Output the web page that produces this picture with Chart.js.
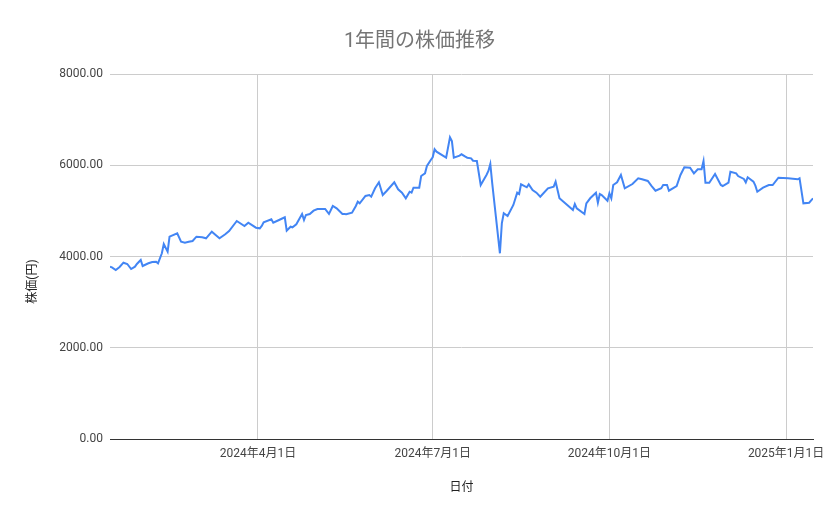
<!DOCTYPE html>
<html>
<head>
<meta charset="utf-8">
<script src="https://cdn.jsdelivr.net/npm/chart.js@4.4.0/dist/chart.umd.min.js"></script>
<style>
  html, body { margin: 0; padding: 0; background: #fff; }
  #wrap { width: 839px; height: 519px; }
</style>
</head>
<body>
<div id="wrap"><canvas id="c" width="839" height="519"></canvas></div>
<script>
const chartTitle = '1年間の株価推移';
const xTitle = '日付';
const yTitle = '株価(円)';

const dates = [
  "2024-01-15","2024-01-16","2024-01-18","2024-01-20","2024-01-22","2024-01-24","2024-01-26","2024-01-28","2024-01-29","2024-01-31",
  "2024-02-01","2024-02-04","2024-02-06","2024-02-08","2024-02-09","2024-02-11","2024-02-12","2024-02-14","2024-02-15","2024-02-19",
  "2024-02-21","2024-02-23","2024-02-25","2024-02-27","2024-02-29","2024-03-03","2024-03-05","2024-03-08","2024-03-10","2024-03-12",
  "2024-03-15","2024-03-17","2024-03-21","2024-03-25","2024-03-27","2024-03-31","2024-04-02","2024-04-03","2024-04-04","2024-04-08",
  "2024-04-09","2024-04-12","2024-04-15","2024-04-16","2024-04-18","2024-04-19","2024-04-21","2024-04-24","2024-04-25","2024-04-26",
  "2024-04-28","2024-04-30","2024-05-02","2024-05-06","2024-05-08","2024-05-10","2024-05-12","2024-05-15","2024-05-16","2024-05-17",
  "2024-05-20","2024-05-22","2024-05-23","2024-05-24","2024-05-27","2024-05-29","2024-05-30","2024-06-01","2024-06-03","2024-06-05",
  "2024-06-07","2024-06-11","2024-06-13","2024-06-15","2024-06-17","2024-06-19","2024-06-20","2024-06-21","2024-06-24","2024-06-25",
  "2024-06-27","2024-06-28","2024-06-30","2024-07-01","2024-07-02","2024-07-03","2024-07-08","2024-07-10","2024-07-11","2024-07-12",
  "2024-07-15","2024-07-16","2024-07-18","2024-07-19","2024-07-21","2024-07-22","2024-07-24","2024-07-26","2024-07-29","2024-07-30",
  "2024-07-31","2024-08-01","2024-08-03","2024-08-05","2024-08-06","2024-08-07","2024-08-09","2024-08-12","2024-08-14","2024-08-15",
  "2024-08-16","2024-08-19","2024-08-20","2024-08-22","2024-08-24","2024-08-26","2024-08-30","2024-09-02","2024-09-03","2024-09-05",
  "2024-09-08","2024-09-11","2024-09-12","2024-09-13","2024-09-14","2024-09-18","2024-09-19","2024-09-21","2024-09-24","2024-09-25",
  "2024-09-26","2024-09-27","2024-09-30","2024-10-01","2024-10-02","2024-10-03","2024-10-05","2024-10-07","2024-10-09","2024-10-13",
  "2024-10-16","2024-10-18","2024-10-21","2024-10-23","2024-10-25","2024-10-28","2024-10-29","2024-10-31","2024-11-01","2024-11-05",
  "2024-11-07","2024-11-09","2024-11-12","2024-11-14","2024-11-16","2024-11-18","2024-11-19","2024-11-20","2024-11-22","2024-11-25",
  "2024-11-28","2024-11-29","2024-12-02","2024-12-03","2024-12-06","2024-12-07","2024-12-10","2024-12-11","2024-12-12","2024-12-15",
  "2024-12-16","2024-12-17","2024-12-20","2024-12-23","2024-12-25","2024-12-28","2025-01-02","2025-01-07","2025-01-08","2025-01-10",
  "2025-01-13","2025-01-15"
];

const prices = [
  3777,3763,3704,3770,3864,3836,3726,3777,3836,3923,
  3792,3851,3880,3886,3851,4070,4274,4105,4434,4509,
  4324,4302,4324,4340,4434,4421,4399,4544,4471,4399,
  4487,4559,4778,4669,4741,4631,4618,4669,4750,4815,
  4741,4800,4859,4566,4653,4640,4706,4932,4800,4910,
  4932,5004,5041,5041,4932,5107,5057,4932,4932,4925,
  4960,5107,5201,5166,5326,5348,5311,5495,5626,5348,
  5436,5626,5473,5399,5276,5420,5399,5508,5508,5764,
  5823,5984,6115,6174,6350,6297,6166,6613,6531,6166,
  6210,6240,6188,6166,6152,6100,6093,5567,5786,5874,
  6027,5604,4837,4070,4727,4947,4888,5129,5399,5370,
  5582,5517,5582,5458,5399,5311,5495,5530,5640,5276,
  5166,5056,5019,5151,5056,4932,5166,5276,5399,5179,
  5370,5348,5223,5385,5276,5567,5626,5786,5495,5589,
  5714,5692,5655,5545,5442,5495,5567,5567,5442,5545,
  5786,5955,5947,5823,5911,5911,6093,5618,5618,5808,
  5567,5545,5618,5859,5823,5764,5699,5626,5736,5640,
  5552,5420,5508,5567,5567,5727,5714,5692,5714,5166,
  5179,5276
];

const tickDates = ["2024-04-01","2024-07-01","2024-10-01","2025-01-01"];
const tickLabels = ["2024年4月1日","2024年7月1日","2024年10月1日","2025年1月1日"];
const yTicks = [0, 2000, 4000, 6000, 8000];

const dayNum = d => Date.parse(d + 'T00:00:00Z') / 86400000;
const FONT = 'Roboto, "Noto Sans CJK JP", sans-serif';

const points = dates.map((d, i) => ({ x: dayNum(d), y: prices[i] }));
const tickVals = tickDates.map(dayNum);

// y-axis title drawn slightly below the plot's middle, as in the original
const yTitlePlugin = {
  id: 'yTitlePlugin',
  afterDraw(chart) {
    const { ctx, chartArea } = chart;
    ctx.save();
    ctx.translate(33, (chartArea.top + chartArea.bottom) / 2 + 25);
    ctx.rotate(-Math.PI / 2);
    ctx.font = '12px ' + FONT;
    ctx.fillStyle = '#222';
    ctx.textAlign = 'center';
    ctx.textBaseline = 'middle';
    ctx.fillText(yTitle, 0, 0);
    ctx.restore();
  }
};

new Chart(document.getElementById('c'), {
  type: 'line',
  data: {
    datasets: [{
      data: points,
      borderColor: '#4285f4',
      borderWidth: 2,
      pointRadius: 0,
      tension: 0,
      fill: false
    }]
  },
  plugins: [yTitlePlugin],
  options: {
    responsive: false,
    animation: false,
    layout: { padding: { left: 13, right: 13, top: 0, bottom: 0 } },
    plugins: {
      legend: { display: false },
      tooltip: { enabled: false },
      title: {
        display: true,
        text: chartTitle,
        color: '#757575',
        font: { family: FONT, size: 20, weight: 'normal' },
        padding: { top: 30, bottom: 20 }
      }
    },
    scales: {
      x: {
        type: 'linear',
        min: dayNum(dates[0]),
        max: dayNum(dates[dates.length - 1]),
        afterBuildTicks: s => { s.ticks = tickVals.map(v => ({ value: v })); },
        afterFit: s => { s.height = 80; },
        ticks: {
          autoSkip: false,
          maxRotation: 0,
          color: '#444',
          padding: 8,
          font: { family: FONT, size: 12 },
          callback: (v, i) => tickLabels[i]
        },
        grid: { color: '#cccccc', drawTicks: false },
        border: { display: true, color: '#333333' },
        title: {
          display: true,
          text: xTitle,
          color: '#222',
          font: { family: FONT, size: 12 },
          padding: { top: 0, bottom: 24 }
        }
      },
      y: {
        min: 0,
        max: 8000,
        afterBuildTicks: s => { s.ticks = yTicks.map(v => ({ value: v })); },
        afterFit: s => { s.width = 97; },
        ticks: {
          color: '#444',
          padding: 7,
          font: { family: FONT, size: 12 },
          callback: v => Number(v).toFixed(2)
        },
        grid: {
          color: c => (c.tick && c.tick.value === 0) ? '#333333' : '#cccccc',
          drawTicks: false
        },
        border: { display: false }
      },
      yRight: {
        position: 'right',
        display: true,
        afterFit: s => { s.width = 13; },
        ticks: { display: false },
        grid: { display: false, drawTicks: false },
        border: { display: false }
      }
    }
  }
});
</script>
</body>
</html>
